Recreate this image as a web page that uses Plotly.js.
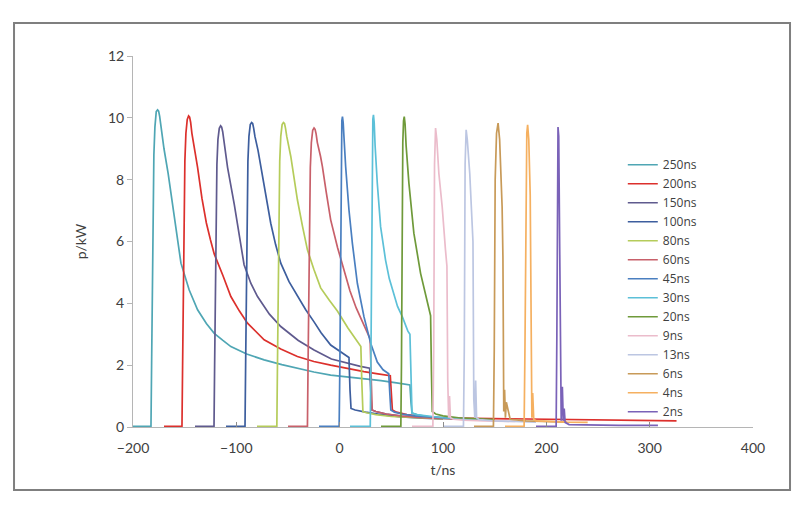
<!DOCTYPE html>
<html>
<head>
<meta charset="utf-8">
<script src="https://cdn.plot.ly/plotly-3.0.1.min.js"></script>
<style>
  body { margin: 0; background: #fff; }
  #chart { width: 805px; height: 517px; }
</style>
</head>
<body>
<div id="chart"></div>
<script>
// pulse records: t in ns, p in kW
var t250 = [-200, -182.6, -182, -181.3, -180.5, -179.8, -178.8, -177.5, -176.2, -175.2, -174.2, -173, -170, -166, -161.7, -158, -153.6, -145.6, -137.5, -129, -121.4, -113, -105.3, -90, -73.1, -56, -40.9, -25, -8.7, 8, 23.5, 40, 55, 68, 69, 70, 75, 85, 100, 115];
var p250 = [0.02, 0.02, 2, 5, 7.3, 8.8, 9.7, 10.2, 10.26, 10.22, 10.05, 9.7, 9.0, 8.2, 7.2, 6.2, 5.3, 4.43, 3.79, 3.35, 3.03, 2.8, 2.6, 2.36, 2.17, 2.02, 1.9, 1.78, 1.68, 1.62, 1.58, 1.5, 1.43, 1.36, 0.8, 0.45, 0.4, 0.33, 0.28, 0.25];

var t200 = [-170, -152.6, -152, -151.3, -150.5, -149.8, -148.8, -147.5, -146.2, -145.2, -144.2, -143, -140, -137.5, -133.3, -129, -125, -121.4, -113, -105.3, -97, -89.2, -73.1, -57, -40.9, -25, -8.7, 8, 23.5, 37, 49, 50, 51, 55, 65, 80, 100, 130, 160, 200, 240, 280, 326];
var p200 = [0.02, 0.02, 2, 5, 7.3, 8.6, 9.5, 9.95, 10.06, 10.02, 9.85, 9.5, 8.9, 8.4, 7.4, 6.6, 6.05, 5.6, 4.9, 4.22, 3.75, 3.36, 2.82, 2.52, 2.28, 2.12, 2.0, 1.88, 1.79, 1.72, 1.66, 1.1, 0.55, 0.48, 0.4, 0.33, 0.3, 0.28, 0.27, 0.25, 0.23, 0.22, 0.2];

var t150 = [-140, -121.6, -121, -120.3, -119.5, -118.8, -117.8, -116.5, -115.2, -114.2, -113.2, -112, -108.5, -102, -97, -92.5, -86, -79.5, -68, -57, -40, -24.8, -8, 8, 20, 29, 30, 31, 35, 45, 60, 80, 100];
var p150 = [0.02, 0.02, 2, 5, 7.3, 8.5, 9.3, 9.66, 9.74, 9.7, 9.55, 9.25, 8.4, 7.2, 6.1, 5.25, 4.65, 4.22, 3.65, 3.25, 2.8, 2.49, 2.2, 2.05, 1.96, 1.9, 1.2, 0.55, 0.5, 0.42, 0.35, 0.3, 0.27];

var t100 = [-110, -91.6, -91, -90.3, -89.5, -88.8, -87.8, -86.5, -85.2, -84.2, -83.2, -82, -79, -76.3, -71, -66.7, -62, -57, -49, -40.9, -33, -24.8, -18, -8.7, 0, 9, 10, 11, 15, 25, 40, 60, 80, 100];
var p100 = [0.02, 0.02, 2, 5, 7.3, 8.6, 9.4, 9.78, 9.85, 9.82, 9.66, 9.4, 8.95, 8.42, 7.4, 6.59, 5.9, 5.3, 4.7, 4.22, 3.8, 3.4, 3.05, 2.65, 2.45, 2.25, 1.2, 0.6, 0.55, 0.48, 0.4, 0.33, 0.29, 0.26];

var t80 = [-80, -60.8, -60.2, -59.5, -58.7, -58, -57, -55.7, -54.4, -53.4, -52.4, -51.2, -47.3, -44, -40.9, -36, -31.2, -25, -18.4, -10, -2.2, 8, 17, 20.5, 21.5, 22.5, 26, 35, 50, 70, 100];
var p80 = [0.02, 0.02, 2, 5, 7.3, 8.6, 9.4, 9.78, 9.85, 9.82, 9.66, 9.4, 8.75, 8.0, 7.35, 6.5, 5.73, 5.1, 4.5, 4.1, 3.75, 3.2, 2.75, 2.6, 1.4, 0.5, 0.46, 0.4, 0.34, 0.3, 0.26];

var t60 = [-50, -31.2, -30.6, -29.9, -29.1, -28.4, -27.4, -26.1, -24.8, -23.8, -22.8, -21.6, -18.5, -16.7, -13, -8.7, -2, 4.2, 10, 16, 23.5, 29.5, 30.5, 31.5, 35, 45, 60, 80, 110];
var p60 = [0.02, 0.02, 2, 5, 7.2, 8.4, 9.2, 9.6, 9.67, 9.63, 9.48, 9.2, 8.75, 8.42, 7.6, 6.7, 5.8, 5.1, 4.4, 3.85, 3.3, 2.85, 1.6, 0.55, 0.5, 0.42, 0.35, 0.3, 0.26];

var t45 = [-20, -0.5, 0.2, 0.9, 1.5, 2.1, 2.7, 3.4, 4.3, 5.8, 9, 12.3, 17.1, 23.5, 30, 36.4, 42, 47.5, 48.5, 49.5, 53, 60, 75, 95, 120];
var p45 = [0.02, 0.02, 2, 6.5, 9.2, 9.9, 10.04, 9.85, 9.3, 8.42, 7.02, 5.94, 4.65, 3.57, 2.71, 2.1, 1.85, 1.72, 1.1, 0.55, 0.48, 0.42, 0.35, 0.3, 0.26];

var t30 = [10, 29.6, 30.2, 30.9, 31.5, 32.1, 32.7, 33.4, 34.3, 36.4, 39.6, 44.4, 48, 52.5, 56, 60.6, 66, 68, 69, 70, 74, 85, 100, 120, 140];
var p30 = [0.02, 0.02, 2, 6.5, 9.2, 9.95, 10.1, 9.85, 9.1, 7.89, 6.48, 5.4, 4.8, 4.33, 3.9, 3.57, 3.1, 3.0, 1.5, 0.45, 0.4, 0.35, 0.3, 0.26, 0.24];

var t20 = [40, 59.2, 59.8, 60.5, 61.1, 61.8, 62.5, 63.3, 64.3, 67, 71.8, 78.3, 84.7, 88, 88.8, 89.6, 93, 100, 115, 130, 150];
var p20 = [0.02, 0.02, 2, 6.5, 9.2, 9.9, 10.04, 9.8, 9.1, 7.89, 6.27, 4.97, 4.11, 3.6, 1.8, 0.5, 0.42, 0.36, 0.3, 0.27, 0.24];

var t9 = [70, 90.2, 91, 91.8, 92.8, 94, 96, 99.2, 102.4, 103.8, 104.6, 105.5, 106.3, 107.2, 110, 120, 140, 170];
var p9 = [0.02, 0.02, 2.5, 8.5, 9.67, 9.3, 8.2, 7.13, 5.73, 5.2, 1.5, 0.3, 1.0, 0.3, 0.25, 0.22, 0.2, 0.18];

var t13 = [100, 119.8, 120.6, 121.4, 122.4, 123.5, 125.9, 128.2, 129, 129.8, 130.8, 131.6, 132.5, 135, 150, 170, 190];
var p13 = [0.02, 0.02, 2.5, 8.5, 9.61, 9.3, 8.2, 6.59, 6.0, 0.9, 0.3, 1.5, 0.3, 0.24, 0.2, 0.18, 0.16];

var t6 = [130, 148.8, 149.6, 150.5, 151.8, 153.3, 154.8, 157.2, 158, 158.8, 159.6, 160.4, 161.3, 165, 180, 200, 220];
var p6 = [0.02, 0.02, 2.5, 8.0, 9.5, 9.83, 9.3, 7.13, 5.5, 0.5, 1.2, 0.3, 0.8, 0.25, 0.2, 0.18, 0.16];

var t4 = [160, 178.5, 179.3, 180.2, 181.1, 181.9, 183, 184.4, 185.2, 186, 186.8, 187.8, 190, 200, 220, 240];
var p4 = [0.02, 0.02, 2.5, 8.0, 9.5, 9.77, 9.3, 7.5, 1.5, 0.3, 1.1, 0.25, 0.2, 0.18, 0.16, 0.15];

var t2 = [190, 209.5, 210.2, 210.8, 211.3, 212, 212.8, 213.5, 214.4, 215.5, 216.4, 217.3, 218.2, 222, 240, 270, 308];
var p2 = [0.02, 0.02, 3, 8.5, 9.7, 9.4, 6.5, 2, 0.2, 1.3, 0.2, 0.6, 0.15, 0.08, 0.06, 0.05, 0.05];

var names = ["250ns", "200ns", "150ns", "100ns", "80ns", "60ns", "45ns", "30ns", "20ns", "9ns", "13ns", "6ns", "4ns", "2ns"];
var tSets = [t250, t200, t150, t100, t80, t60, t45, t30, t20, t9, t13, t6, t4, t2];
var pSets = [p250, p200, p150, p100, p80, p60, p45, p30, p20, p9, p13, p6, p4, p2];
var colors = ["#4fa6b4", "#dc302c", "#5f5a8e", "#3d5e9e", "#b5cc5a", "#c8606a", "#4a7fc0",
              "#5cc0d8", "#6f9a3a", "#ebbccb", "#bcc6e2", "#c89a58", "#f5b060", "#7a62b8"];

var data = [];
for (var i = 0; i < names.length; i++) {
    data.push({
        type: "scatter",
        mode: "lines",
        name: names[i],
        x: tSets[i],
        y: pSets[i],
        line: { color: colors[i], width: 1.7 }
    });
}

var fnt = "Lato, 'Open Sans', sans-serif";

var layout = {
    width: 805,
    height: 517,
    margin: { l: 133, r: 52, t: 56, b: 90 },
    paper_bgcolor: "#fff",
    plot_bgcolor: "#fff",
    font: { family: fnt, size: 14, color: "#404040" },
    showlegend: true,
    legend: {
        x: 0.79, y: 0.746, xanchor: "left", yanchor: "top",
        font: { family: "'Open Sans', sans-serif", size: 12, color: "#404040" },
        bgcolor: "rgba(0,0,0,0)",
        tracegroupgap: 0
    },
    xaxis: {
        range: [-200, 400],
        dtick: 100,
        tick0: 0,
        ticks: "inside",
        ticklen: 5,
        tickcolor: "#8c8c8c",
        showline: true,
        linecolor: "#b5b5b5",
        linewidth: 1,
        showgrid: false,
        zeroline: false,
        ticklabelstandoff: 8,
        title: { text: "t/ns", standoff: 10, font: { family: fnt, size: 14, color: "#404040" } }
    },
    yaxis: {
        range: [0, 12],
        dtick: 2,
        ticks: "outside",
        ticklen: 5,
        tickcolor: "#b5b5b5",
        showline: true,
        linecolor: "#b5b5b5",
        linewidth: 1,
        showgrid: false,
        zeroline: false,
        title: { text: "p/kW", standoff: 18, font: { family: fnt, size: 14, color: "#404040" } }
    },
    shapes: [{
        type: "rect", xref: "paper", yref: "paper",
        x0: -0.1919, x1: 1.0597, y0: -0.1698, y1: 1.0889,
        line: { color: "#7f7f7f", width: 2 }
    }]
};

Plotly.newPlot("chart", data, layout, { displayModeBar: false, staticPlot: true });
</script>
</body>
</html>
